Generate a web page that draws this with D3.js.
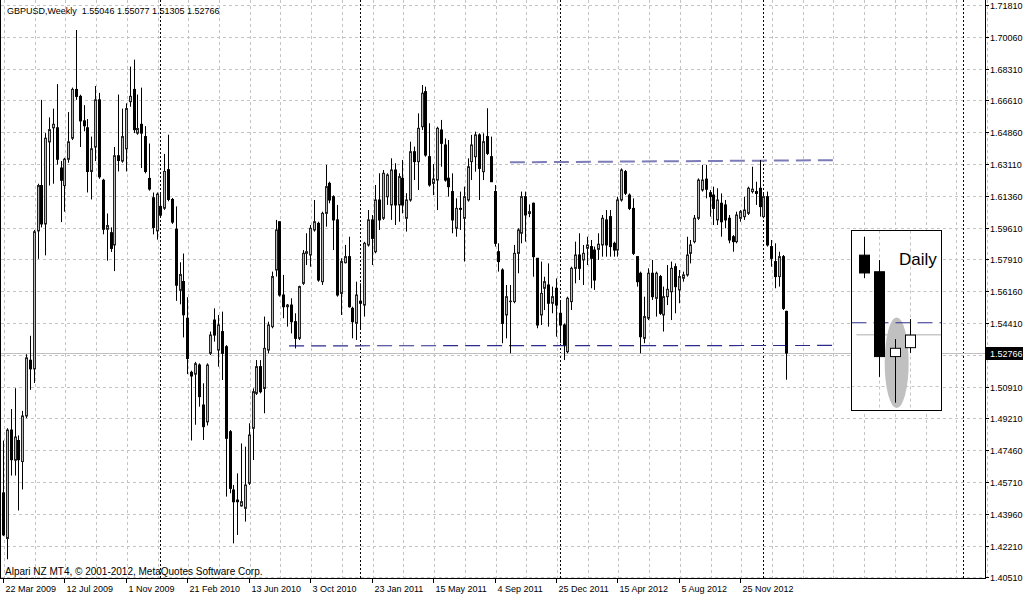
<!DOCTYPE html>
<html><head><meta charset="utf-8">
<script src="https://cdn.jsdelivr.net/npm/d3@7"></script>
<style>
html,body{margin:0;padding:0;background:#fff;}
svg{display:block;}
text{font-family:"Liberation Sans",Arial,sans-serif;}
</style></head><body>
<svg id="c" width="1024" height="595"></svg>
<script>
// ---------- data (weekly GBPUSD, index 0 = week of 22 Mar 2009) ----------
const opens=[1.4511,1.4262,1.4855,1.4690,1.4798,1.4683,1.4932,1.5237,1.5190,1.5945,
1.6193,1.5983,1.6432,1.6509,1.6509,1.6289,1.6193,1.6337,1.6452,1.6719,
1.6681,1.6547,1.6509,1.6270,1.6404,1.6662,1.6222,1.5954,1.5935,1.5868,
1.6356,1.6327,1.6394,1.6652,1.6719,1.6480,1.6528,1.6461,1.6232,1.6126,
1.5945,1.6079,1.6069,1.6280,1.6117,1.5954,1.5620,1.5668,1.5467,1.5171,
1.5161,1.5211,1.4992,1.4900,1.5275,1.5457,1.5293,1.5394,1.5311,1.4846,
1.4527,1.4472,1.4440,1.4427,1.4564,1.4865,1.5056,1.5202,1.5083,1.5293,
1.5421,1.5731,1.5995,1.5594,1.5530,1.5539,1.5448,1.5357,1.5658,1.5822,
1.5813,1.5950,1.5986,1.5667,1.6041,1.6205,1.6132,1.6005,1.5603,1.5771,
1.5804,1.5521,1.5439,1.5560,1.5539,1.5868,1.6005,1.5831,1.6114,1.6014,
1.6132,1.6087,1.6278,1.6087,1.6233,1.6014,1.6114,1.6378,1.6324,1.6515,
1.6707,1.6351,1.6205,1.6223,1.6497,1.6415,1.6233,1.6160,1.5959,1.6068,
1.6014,1.6114,1.6324,1.6351,1.6470,1.6269,1.6461,1.6351,1.6160,1.5831,
1.5731,1.5485,1.5558,1.5558,1.5822,1.5932,1.6132,1.6040,1.6096,1.5795,
1.5485,1.5631,1.5649,1.5549,1.5631,1.5494,1.5430,1.5284,1.5558,1.5740,
1.5813,1.5786,1.5850,1.5859,1.5840,1.5844,1.5868,1.6005,1.6023,1.5877,
1.5840,1.6114,1.6269,1.6141,1.6068,1.5804,1.5713,1.5357,1.5467,1.5713,
1.5576,1.5695,1.5485,1.5585,1.5612,1.5749,1.5622,1.5686,1.5704,1.5822,
1.5886,1.6014,1.6169,1.6228,1.6154,1.6141,1.6005,1.6096,1.6087,1.6014,
1.5913,1.5886,1.6014,1.6023,1.6041,1.6160,1.6160,1.6178,1.6023,1.6132,
1.5859,1.5777,1.5695,1.5804,1.55046];
const highs=[1.4798,1.4865,1.4970,1.5084,1.4826,1.4960,1.5270,1.5371,1.5950,1.6203,
1.6662,1.6480,1.6566,1.6614,1.6748,1.6327,1.6345,1.6595,1.6729,1.7044,
1.6690,1.6633,1.6557,1.6461,1.6738,1.6700,1.6230,1.6040,1.5964,1.6404,
1.6691,1.6614,1.6643,1.6844,1.6882,1.6691,1.6729,1.6518,1.6423,1.6155,
1.6155,1.6146,1.6366,1.6471,1.6125,1.6079,1.5773,1.5821,1.5582,1.5180,
1.5228,1.5220,1.5111,1.5220,1.5394,1.5521,1.5485,1.5503,1.5320,1.4855,
1.4554,1.4618,1.4782,1.4764,1.4892,1.5083,1.5238,1.5238,1.5476,1.5448,
1.5722,1.6005,1.5995,1.5704,1.5545,1.5576,1.5494,1.5645,1.5840,1.5932,
1.5977,1.6114,1.5995,1.6050,1.6306,1.6214,1.6140,1.6087,1.5795,1.5868,
1.5913,1.5530,1.5667,1.5658,1.5885,1.6059,1.6032,1.6196,1.6260,1.6278,
1.6260,1.6342,1.6315,1.6260,1.6333,1.6151,1.6433,1.6406,1.6588,1.6743,
1.6734,1.6534,1.6311,1.6515,1.6552,1.6451,1.6442,1.6260,1.6123,1.6160,
1.6187,1.6342,1.6470,1.6488,1.6479,1.6479,1.6616,1.6461,1.6196,1.5877,
1.5740,1.5649,1.5649,1.5868,1.5959,1.6160,1.6160,1.6090,1.6100,1.5795,
1.5777,1.5694,1.5767,1.5640,1.5685,1.5567,1.5439,1.5585,1.5749,1.5886,
1.5932,1.5868,1.5913,1.5895,1.5859,1.5932,1.6032,1.6059,1.6059,1.5886,
1.6132,1.6287,1.6278,1.6150,1.6123,1.5804,1.5722,1.5585,1.5740,1.5786,
1.5722,1.5704,1.5640,1.5758,1.5777,1.5767,1.5731,1.5722,1.5913,1.5895,
1.6032,1.6232,1.6306,1.6306,1.6168,1.6187,1.6178,1.6150,1.6114,1.6032,
1.5922,1.6050,1.6059,1.6132,1.6187,1.6296,1.6214,1.6333,1.6150,1.6160,
1.5895,1.5877,1.5831,1.5813,1.55077];
const lows=[1.4275,1.4148,1.4606,1.4606,1.4415,1.4530,1.4920,1.5075,1.5113,1.5792,
1.5964,1.5811,1.6193,1.6203,1.6308,1.5993,1.6050,1.6318,1.6442,1.6662,
1.6404,1.6490,1.6155,1.6117,1.6327,1.6230,1.5926,1.5782,1.5830,1.5725,
1.6270,1.6318,1.6270,1.6624,1.6480,1.6471,1.6289,1.6260,1.6165,1.5926,
1.5897,1.6020,1.6060,1.6107,1.5983,1.5562,1.5543,1.5362,1.5161,1.4798,
1.4884,1.4983,1.4801,1.4880,1.5266,1.5339,1.5202,1.5129,1.4491,1.4509,
1.4235,1.4281,1.4436,1.4354,1.4554,1.4691,1.5047,1.5056,1.4947,1.5275,
1.5412,1.5695,1.5585,1.5467,1.5421,1.5384,1.5302,1.5348,1.5649,1.5758,
1.5749,1.5941,1.5667,1.5649,1.5968,1.6096,1.5840,1.5585,1.5485,1.5767,
1.5525,1.5357,1.5348,1.5403,1.5476,1.5859,1.5758,1.5822,1.5950,1.6005,
1.6087,1.6005,1.5977,1.5995,1.6041,1.5941,1.6105,1.6223,1.6169,1.6497,
1.6351,1.6187,1.6141,1.6059,1.6296,1.6214,1.6132,1.5932,1.5913,1.5950,
1.5777,1.6105,1.6223,1.6269,1.6114,1.6223,1.6360,1.6214,1.5859,1.5722,
1.5330,1.5357,1.5275,1.5549,1.5713,1.5877,1.5886,1.6020,1.5694,1.5412,
1.5430,1.5512,1.5421,1.5494,1.5366,1.5330,1.5238,1.5275,1.5512,1.5658,
1.5676,1.5649,1.5758,1.5631,1.5622,1.5786,1.5804,1.5804,1.5804,1.5804,
1.5804,1.6105,1.6141,1.6059,1.5813,1.5640,1.5275,1.5330,1.5457,1.5567,
1.5476,1.5485,1.5394,1.5539,1.5457,1.5494,1.5549,1.5667,1.5695,1.5767,
1.5877,1.6005,1.6160,1.6123,1.6023,1.5977,1.5977,1.5913,1.5959,1.5877,
1.5831,1.5877,1.5995,1.6005,1.6032,1.6150,1.6087,1.6023,1.6014,1.5859,
1.5749,1.5631,1.5640,1.5512,1.51305];
const closes=[1.4282,1.4855,1.4693,1.4817,1.4693,1.4932,1.5250,1.5190,1.5940,1.6193,
1.5983,1.6452,1.6499,1.6528,1.6337,1.6222,1.6337,1.6432,1.6719,1.6681,
1.6547,1.6520,1.6270,1.6394,1.6662,1.6241,1.5954,1.5974,1.5849,1.6356,
1.6330,1.6461,1.6614,1.6681,1.6499,1.6505,1.6480,1.6270,1.6174,1.5964,
1.6146,1.6031,1.6270,1.6117,1.5993,1.5648,1.5706,1.5486,1.5247,1.5151,
1.5218,1.5038,1.4874,1.5211,1.5375,1.5375,1.5430,1.5275,1.4810,1.4536,
1.4463,1.4463,1.4463,1.4554,1.4828,1.5065,1.5202,1.5065,1.5302,1.5430,
1.5695,1.5950,1.5594,1.5530,1.5539,1.5448,1.5357,1.5640,1.5822,1.5831,
1.5959,1.5995,1.5676,1.6041,1.6187,1.6114,1.6005,1.5594,1.5777,1.5804,
1.5530,1.5448,1.5594,1.5549,1.5877,1.6005,1.5904,1.6114,1.6005,1.6260,
1.6251,1.6278,1.6087,1.6242,1.6087,1.6114,1.6378,1.6324,1.6506,1.6698,
1.6360,1.6196,1.6229,1.6506,1.6424,1.6223,1.6187,1.6005,1.6068,1.6063,
1.6132,1.6296,1.6415,1.6470,1.6287,1.6433,1.6369,1.6214,1.5877,1.5777,
1.5439,1.5585,1.5560,1.5822,1.5950,1.6132,1.6032,1.6050,1.5804,1.5430,
1.5603,1.5667,1.5549,1.5585,1.5539,1.5430,1.5321,1.5576,1.5740,1.5813,
1.5740,1.5822,1.5868,1.5795,1.5676,1.5872,1.6014,1.5868,1.5859,1.5840,
1.6114,1.6278,1.6151,1.6068,1.5822,1.5667,1.5366,1.5476,1.5713,1.5585,
1.5713,1.5494,1.5585,1.5625,1.5740,1.5640,1.5695,1.5704,1.5813,1.5868,
1.6014,1.6223,1.6223,1.6173,1.6132,1.6068,1.6114,1.5995,1.6005,1.5895,
1.5886,1.6032,1.6050,1.6059,1.6178,1.6173,1.6150,1.6078,1.6132,1.5868,
1.5795,1.5695,1.5804,1.5521,1.52766];

const priceGrid=[1.71810,1.70060,1.68310,1.66610,1.64860,1.63110,1.61360,1.59610,1.57910,1.56160,1.54410,1.52660,1.50910,1.49210,1.47460,1.45710,1.43960,1.42210,1.40510];
const priceLabels=["1.71810","1.70060","1.68310","1.66610","1.64860","1.63110","1.61360","1.59610","1.57910","1.56160","1.54410","","1.50910","1.49210","1.47460","1.45710","1.43960","1.42210","1.40510"];
const dateIndex=[0,16,32,48,64,80,96,112,128,144,160,176,192];
const dateLabels=["22 Mar 2009","12 Jul 2009","1 Nov 2009","21 Feb 2010","13 Jun 2010","3 Oct 2010","23 Jan 2011","15 May 2011","4 Sep 2011","25 Dec 2011","15 Apr 2012","5 Aug 2012","25 Nov 2012"];
const separatorIndex=[41,93,145,198,250];
const titleText="GBPUSD,Weekly  1.55046 1.55077 1.51305 1.52766";
const footerText="Alpari NZ MT4, \u00A9 2001-2012, MetaQuotes Software Corp.";
const lastPrice=1.52766;
const lastPriceLabel="1.52766";
// trend lines: [startIndex, startPrice, endIndex, endPrice]
const supportLine=[74.5,1.5316,217,1.5318];
const resistanceLine=[132,1.6320,217,1.6332];
// daily inset
const dailyOpen=[1.5536,1.5482,1.5206,1.5235];
const dailyHigh=[1.5596,1.5520,1.5263,1.5328];
const dailyLow=[1.5461,1.5140,1.5056,1.5218];
const dailyClose=[1.5478,1.5206,1.5233,1.5276];
const dailySupport=1.5316;
const dailyLast=1.5277;
const insetTitle="Daily";

// ---------- drawing ----------
const svg=d3.select("#c");
const W=1024,H=595, plotR=985, plotB=578;
const x=d3.scaleLinear().domain([0,192]).range([3,740.3]);
const y=d3.scaleLinear().domain([1.40510,1.71810]).range([577,5]);
const gridCol="#c4c4c4";

svg.append("rect").attr("width",W).attr("height",H).attr("fill","#fff");

// horizontal grid
svg.append("g").selectAll("line").data(priceGrid).join("line")
  .attr("x1",1).attr("x2",plotR).attr("y1",d=>Math.round(y(d))+0.5).attr("y2",d=>Math.round(y(d))+0.5)
  .attr("stroke",gridCol).attr("stroke-dasharray","3,3");
// vertical grid every 8 bars
const vIdx=d3.range(0,257,8);
svg.append("g").selectAll("line").data(vIdx).join("line")
  .attr("x1",d=>Math.round(x(d))+1.5).attr("x2",d=>Math.round(x(d))+1.5).attr("y1",0).attr("y2",plotB)
  .attr("stroke",gridCol).attr("stroke-dasharray","3,3");
// period separators
svg.append("g").selectAll("line").data(separatorIndex).join("line")
  .attr("x1",d=>Math.round(x(d))+0.5).attr("x2",d=>Math.round(x(d))+0.5).attr("y1",0).attr("y2",plotB)
  .attr("stroke","#000").attr("stroke-dasharray","2,2");

// last price line
svg.append("line").attr("x1",1).attr("x2",plotR).attr("y1",Math.round(y(lastPrice))+0.5).attr("y2",Math.round(y(lastPrice))+0.5)
  .attr("stroke","#c0c0c0");

// trend lines
function tline(a,col,w){
  svg.append("line").attr("x1",x(a[0])).attr("y1",y(a[1])).attr("x2",x(a[2])).attr("y2",y(a[3]))
    .attr("stroke",col).attr("stroke-width",w).attr("stroke-dasharray","15,7");
}
tline(supportLine,"#2b2b8c",1.2);
tline(resistanceLine,"#7c7cb8",2);

// candles
const idx=d3.range(opens.length);
const cg=svg.append("g");
cg.selectAll("line").data(idx).join("line")
  .attr("x1",i=>Math.round(x(i))+0.5).attr("x2",i=>Math.round(x(i))+0.5)
  .attr("y1",i=>y(highs[i])).attr("y2",i=>y(lows[i]))
  .attr("stroke","#000").attr("stroke-width",1);
cg.selectAll("rect").data(idx).join("rect")
  .attr("x",i=>Math.round(x(i))-0.5).attr("width",2)
  .attr("y",i=>y(Math.max(opens[i],closes[i])))
  .attr("height",i=>Math.max(0.01,Math.abs(y(opens[i])-y(closes[i]))))
  .attr("fill",i=>closes[i]>=opens[i]?"#b8b8b8":"#000")
  .attr("stroke",i=>closes[i]>=opens[i]?"#222":"#000").attr("stroke-width",1);

// inset daily chart
const ib={x:851.5,y:230.5,w:90,h:180};
const ig=svg.append("g");
ig.append("rect").attr("x",ib.x).attr("y",ib.y).attr("width",ib.w).attr("height",ib.h).attr("fill","#fff");
// inset grid
[879.5,910.5].forEach(v=>ig.append("line").attr("x1",v).attr("x2",v).attr("y1",ib.y).attr("y2",ib.y+ib.h).attr("stroke",gridCol).attr("stroke-dasharray","3,3"));
[291.5,386.5].forEach(v=>ig.append("line").attr("x1",ib.x).attr("x2",ib.x+ib.w).attr("y1",v).attr("y2",v).attr("stroke",gridCol).attr("stroke-dasharray","3,3"));
const ix=d3.scaleLinear().domain([0,3]).range([864,910]);
const iy=d3.scaleLinear().domain([1.5056,1.5596]).range([402.7,236.7]);
ig.append("line").attr("x1",ib.x+5).attr("x2",ib.x+ib.w).attr("y1",iy(dailyLast)).attr("y2",iy(dailyLast)).attr("stroke","#c8c8c8").attr("stroke-width",1.5);
ig.append("ellipse").attr("cx",ix(2)+2).attr("cy",iy(1.5186)).attr("rx",12).attr("ry",(iy(1.5040)-iy(1.5335))/2)
  .attr("fill","#c0c0c0");
ig.append("line").attr("x1",ib.x).attr("x2",ib.x+ib.w).attr("y1",iy(dailySupport)).attr("y2",iy(dailySupport))
  .attr("stroke","#2b2b8c").attr("stroke-dasharray","15,7");
const di=d3.range(dailyOpen.length);
ig.selectAll("line.w").data(di).join("line").attr("class","w")
  .attr("x1",i=>Math.round(ix(i))+0.5).attr("x2",i=>Math.round(ix(i))+0.5)
  .attr("y1",i=>iy(dailyHigh[i])).attr("y2",i=>iy(dailyLow[i])).attr("stroke","#000");
ig.selectAll("rect.b").data(di).join("rect").attr("class","b")
  .attr("x",i=>Math.round(ix(i))-4.5).attr("width",10)
  .attr("y",i=>iy(Math.max(dailyOpen[i],dailyClose[i])))
  .attr("height",i=>Math.abs(iy(dailyOpen[i])-iy(dailyClose[i])))
  .attr("fill",i=>dailyClose[i]>=dailyOpen[i]?"#fff":"#000").attr("stroke","#000");
ig.append("text").attr("x",899).attr("y",265).attr("font-size",17).attr("fill","#000").text(insetTitle);
ig.append("rect").attr("x",ib.x).attr("y",ib.y).attr("width",ib.w).attr("height",ib.h).attr("fill","none").attr("stroke","#000");

// frame / axes
svg.append("line").attr("x1",0.5).attr("x2",0.5).attr("y1",0).attr("y2",plotB).attr("stroke","#000");
svg.append("line").attr("x1",plotR+0.5).attr("x2",plotR+0.5).attr("y1",0).attr("y2",plotB+1).attr("stroke","#000");
svg.append("line").attr("x1",0).attr("x2",plotR+1).attr("y1",plotB+0.5).attr("y2",plotB+0.5).attr("stroke","#000");

// right axis ticks + labels
const ra=svg.append("g");
priceGrid.forEach((p,k)=>{
  if(!priceLabels[k]) return;
  const yy=Math.round(y(p))+0.5;
  ra.append("line").attr("x1",plotR).attr("x2",plotR+4).attr("y1",yy).attr("y2",yy).attr("stroke","#000");
  ra.append("text").attr("x",plotR+5).attr("y",yy+3.5).attr("font-size",9).attr("fill","#000").text(priceLabels[k]);
});
// last price box
const ly=Math.round(y(lastPrice));
ra.append("rect").attr("x",plotR+1).attr("y",ly-6).attr("width",37).attr("height",13).attr("fill","#000");
ra.append("text").attr("x",plotR+5).attr("y",ly+4).attr("font-size",9).attr("fill","#fff").text(lastPriceLabel);

// bottom axis ticks + labels
const ba=svg.append("g");
dateIndex.forEach((d,k)=>{
  const xx=Math.round(x(d))+0.5;
  ba.append("line").attr("x1",xx).attr("x2",xx).attr("y1",plotB).attr("y2",plotB+5).attr("stroke","#000");
  ba.append("text").attr("x",xx+2).attr("y",plotB+14).attr("font-size",9).attr("fill","#000").text(dateLabels[k]);
});

// title & footer
svg.append("text").attr("x",7).attr("y",14).attr("font-size",9).attr("fill","#000").attr("xml:space","preserve").style("white-space","pre").text(titleText);
svg.append("text").attr("x",5).attr("y",575).attr("font-size",10).attr("fill","#000").text(footerText);
</script>
</body></html>
